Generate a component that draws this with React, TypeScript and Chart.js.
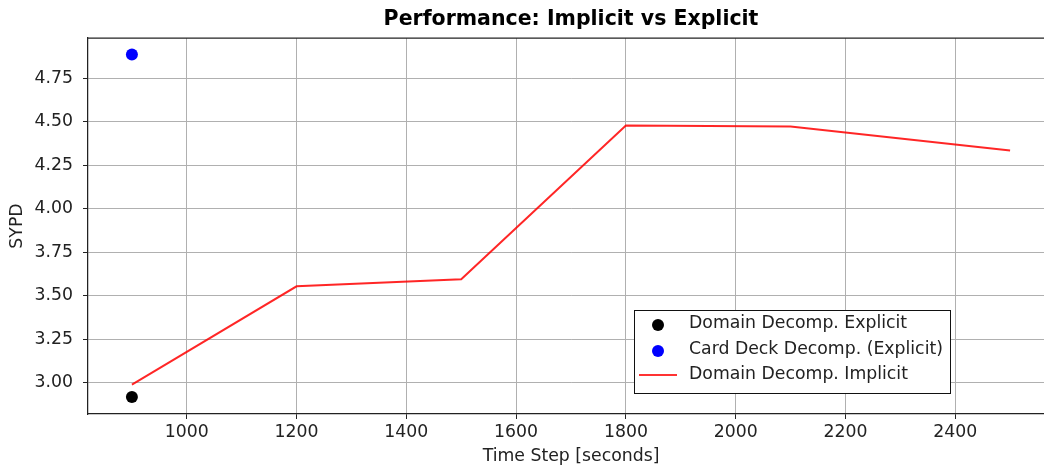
import React, { useEffect, useRef } from "react";
import { Chart, registerables } from "chart.js";

Chart.register(...registerables);

const titleText = "Performance: Implicit vs Explicit";
const xAxisTitle = "Time Step [seconds]";
const yAxisTitle = "SYPD";

const implicitX = [900, 1200, 1500, 1800, 2100, 2500];
const implicitY = [2.99, 3.555, 3.595, 4.478, 4.472, 4.335];
const domainExplicitX = [900];
const domainExplicitY = [2.92];
const cardDeckX = [900];
const cardDeckY = [4.885];

const xTicks = [1000, 1200, 1400, 1600, 1800, 2000, 2200, 2400];
const yTicks = [3.0, 3.25, 3.5, 3.75, 4.0, 4.25, 4.5, 4.75];

const legendLabels = [
  "Domain Decomp. Explicit",
  "Card Deck Decomp. (Explicit)",
  "Domain Decomp. Implicit",
];

const FONT = '"DejaVu Sans", sans-serif';
const TEXT = "#222";
const FS = 17.3;

export default function App() {
  const ref = useRef<HTMLCanvasElement | null>(null);

  useEffect(() => {
    const canvas = ref.current!;
    const decor = {
      id: "decor",
      afterDraw(chart: any) {
        const { ctx, chartArea } = chart;
        const { left, right, top, bottom } = chartArea;
        ctx.save();
        // top spine
        ctx.strokeStyle = "#222";
        ctx.lineWidth = 1.25;
        ctx.beginPath();
        ctx.moveTo(left, top);
        ctx.lineTo(right, top);
        ctx.stroke();
        // title
        ctx.fillStyle = "#000";
        ctx.font = `bold 20.5px ${FONT}`;
        ctx.textAlign = "center";
        ctx.textBaseline = "middle";
        ctx.fillText(titleText, (left + right) / 2, 19.5);
        // axis titles
        ctx.fillStyle = TEXT;
        ctx.font = `${FS}px ${FONT}`;
        ctx.fillText(xAxisTitle, (left + right) / 2, 457);
        ctx.save();
        ctx.translate(18, (top + bottom) / 2);
        ctx.rotate(-Math.PI / 2);
        ctx.fillText(yAxisTitle, 0, 0);
        ctx.restore();
        // legend
        const bx = 634, by = 310, bw = 316, bh = 83;
        ctx.fillStyle = "#fff";
        ctx.fillRect(bx, by, bw, bh);
        ctx.strokeStyle = "#111";
        ctx.lineWidth = 1;
        ctx.strokeRect(bx + 0.5, by + 0.5, bw, bh);
        const rows = [324, 350, 375];
        ctx.fillStyle = "#000";
        ctx.beginPath();
        ctx.arc(658, rows[0] + 1, 6, 0, Math.PI * 2);
        ctx.fill();
        ctx.fillStyle = "#0000ff";
        ctx.beginPath();
        ctx.arc(658, rows[1] + 1, 6, 0, Math.PI * 2);
        ctx.fill();
        ctx.strokeStyle = "rgba(255,0,0,0.8)";
        ctx.lineWidth = 2;
        ctx.beginPath();
        ctx.moveTo(639, rows[2]);
        ctx.lineTo(677, rows[2]);
        ctx.stroke();
        ctx.fillStyle = TEXT;
        ctx.font = `${FS}px ${FONT}`;
        ctx.textAlign = "left";
        ctx.textBaseline = "middle";
        legendLabels.forEach((t, i) => ctx.fillText(t, 689, rows[i]));
        ctx.restore();
      },
    };

    const chart = new Chart(canvas, {
      type: "scatter",
      data: {
        datasets: [
          {
            label: legendLabels[2],
            data: implicitX.map((x, i) => ({ x, y: implicitY[i] })),
            showLine: true,
            borderColor: "rgba(255,0,0,0.85)",
            borderWidth: 2,
            pointRadius: 0,
            order: 3,
          },
          {
            label: legendLabels[0],
            data: domainExplicitX.map((x, i) => ({ x, y: domainExplicitY[i] })),
            backgroundColor: "#000",
            borderColor: "#000",
            borderWidth: 0,
            pointRadius: 6,
            order: 1,
          },
          {
            label: legendLabels[1],
            data: cardDeckX.map((x, i) => ({ x, y: cardDeckY[i] })),
            backgroundColor: "#0000ff",
            borderColor: "#0000ff",
            borderWidth: 0,
            pointRadius: 6,
            order: 2,
          },
        ],
      },
      options: {
        animation: false,
        responsive: false,
        devicePixelRatio: 1,
        layout: { padding: { top: 38, right: 4, left: 0, bottom: 0 } },
        plugins: {
          legend: { display: false },
          title: { display: false },
          tooltip: { enabled: false },
        },
        scales: {
          x: {
            type: "linear",
            min: 820,
            max: 2580,
            afterBuildTicks: (s: any) => {
              s.ticks = xTicks.map((v) => ({ value: v }));
            },
            afterFit: (s: any) => {
              s.height = 55;
            },
            ticks: {
              color: TEXT,
              font: { family: FONT, size: FS },
              padding: 3,
              maxRotation: 0,
              autoSkip: false,
              callback: (v: any) => String(v),
            },
            grid: {
              color: "#b0b0b0",
              lineWidth: 1,
              tickColor: "#222",
              tickLength: 5,
            },
            border: { display: true, color: "#222", width: 1.25 },
          },
          y: {
            type: "linear",
            min: 2.822,
            max: 4.98,
            afterBuildTicks: (s: any) => {
              s.ticks = yTicks.map((v) => ({ value: v }));
            },
            afterFit: (s: any) => {
              s.width = 88;
            },
            ticks: {
              color: TEXT,
              font: { family: FONT, size: FS },
              padding: 10,
              autoSkip: false,
              callback: (v: any) => Number(v).toFixed(2),
            },
            grid: {
              color: "#b0b0b0",
              lineWidth: 1,
              tickColor: "#222",
              tickLength: 5,
            },
            border: { display: true, color: "#222", width: 1.25 },
          },
        },
      },
      plugins: [decor],
    } as any);
    return () => chart.destroy();
  }, []);

  return (
    <div
      style={{
        position: "fixed",
        left: 0,
        top: 0,
        width: 1044,
        height: 469,
        overflow: "hidden",
        background: "#fff",
      }}
    >
      <canvas
        ref={ref}
        width={1060}
        height={469}
        style={{ width: 1060, height: 469, display: "block" }}
      />
    </div>
  );
}
